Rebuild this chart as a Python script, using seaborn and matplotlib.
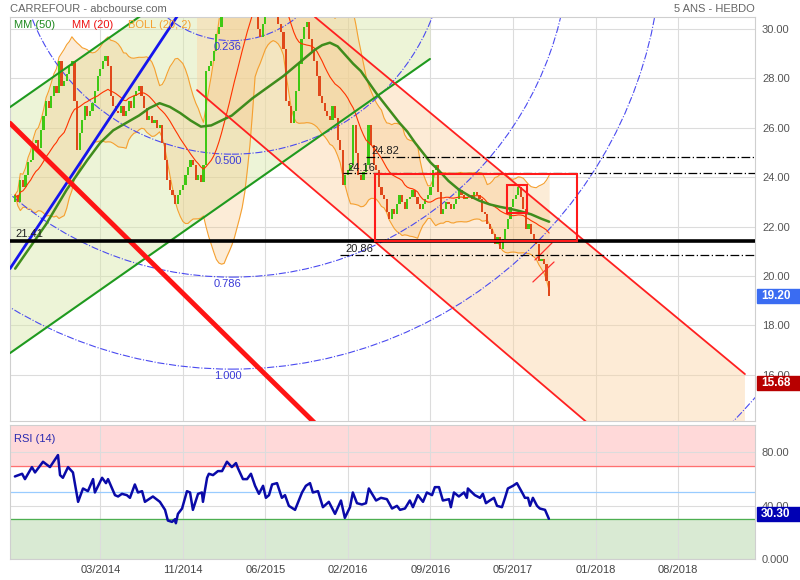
import numpy as np
import pandas as pd
import matplotlib
matplotlib.use('Agg')
import matplotlib.pyplot as plt
import matplotlib.transforms as mtransforms
from matplotlib.patches import Rectangle, Ellipse
import seaborn as sns

# weekly closes (week index 2 .. 209)
closes = [
    23.3, 23.0, 23.9, 23.6, 24.1, 24.6, 24.7, 25.4, 25.5, 25.2,
    25.9, 26.5, 27.1, 26.8, 27.3, 27.7, 27.4, 28.7, 27.7, 27.9,
    28.2, 28.5, 28.7, 27.1, 25.1, 25.8, 26.3, 26.9, 26.5, 26.7,
    27.0, 27.5, 28.1, 28.4, 28.7, 28.9, 28.5, 27.3, 26.9, 26.7,
    26.6, 26.9, 26.5, 26.7, 27.1, 26.8, 27.3, 27.5, 27.7, 27.3,
    26.8, 26.3, 26.5, 26.2, 26.3, 26.0, 26.1, 25.4, 24.7, 23.9,
    23.5, 23.3, 22.9, 23.3, 23.5, 23.7, 24.1, 24.4, 24.7, 24.5,
    23.9, 24.1, 23.8, 24.5, 28.3, 28.5, 28.7, 29.1, 29.8, 30.1,
    30.6, 31.2, 30.9, 31.6, 32.2, 32.6, 32.1, 32.8, 33.0, 32.4,
    31.7, 31.1, 30.5, 30.9, 30.0, 29.7, 30.2, 30.8, 31.2, 30.9,
    31.3, 30.7, 30.2, 29.9, 29.2, 27.1, 26.9, 26.2, 26.7, 27.5,
    28.6, 29.6, 30.1, 30.3, 29.6, 29.1, 28.7, 28.1, 27.3, 27.0,
    26.7, 26.5, 26.3, 26.9, 26.4, 25.5, 25.1, 23.7, 24.1, 24.3,
    24.5, 26.1, 25.0, 24.1, 23.9, 24.2, 24.5, 26.1, 25.3, 24.5,
    24.3, 23.6, 23.3, 23.1, 22.6, 22.3, 22.7, 22.5, 22.9, 23.3,
    23.0, 22.7, 23.1, 23.2, 23.5, 23.2, 22.9, 22.7, 22.9, 23.1,
    23.3, 23.6, 24.3, 24.5, 23.4, 22.5, 22.7, 23.0, 22.9, 22.7,
    22.9, 23.1, 23.5, 23.3, 23.1, 23.2, 23.3, 23.1, 23.4, 23.3,
    23.1, 22.6, 22.5, 22.1, 21.9, 21.7, 21.3, 21.6, 21.1, 21.5,
    21.9, 22.3, 22.8, 23.1, 23.3, 23.6, 23.2, 22.7, 21.9, 22.1,
    21.7, 21.5, 21.3, 20.6, 20.7, 20.5, 19.8, 19.2,
]
first_week = 2
first_open = 23.0

# MM (50)
mm50_weeks = [2, 6, 10, 14, 18, 22, 26, 30, 35, 40, 45, 50, 54, 58, 62,
              66, 70, 74, 78, 82, 86, 90, 94, 98, 102, 106, 110, 114, 118,
              121, 124, 127, 130, 133, 136, 139, 142, 145, 148, 151, 154,
              157, 160, 163, 166, 170, 174, 178, 182, 186, 190, 194, 198,
              202, 206, 209]
mm50_values = [20.3, 20.9, 21.5, 22.1, 22.8, 23.5, 24.1, 24.7, 25.4, 25.9,
               26.2, 26.5, 26.8, 27.0, 26.85, 26.6, 26.3, 26.05, 26.1, 26.3,
               26.5, 26.85, 27.2, 27.5, 27.8, 28.1, 28.45, 28.8, 29.15,
               29.35, 29.45, 29.3, 28.95, 28.6, 28.3, 27.85, 27.4, 27.0,
               26.6, 26.2, 25.85, 25.4, 25.0, 24.6, 24.3, 23.85, 23.5,
               23.25, 23.05, 22.9, 22.8, 22.72, 22.62, 22.5, 22.32, 22.2]

tick_weeks = [35, 67, 99, 131, 163, 195, 227, 259]
tick_labels = ['03/2014', '11/2014', '06/2015', '02/2016',
               '09/2016', '05/2017', '01/2018', '08/2018']

rsi_weeks = [
    1.9, 4.7, 5.8, 8.5, 9.7, 12.8, 15.5, 18.6, 19.4, 20.5,
    22.5, 24.4, 26.4, 28.3, 30.2, 32.2, 32.9, 35.7, 37.2, 38.0,
    40.7, 41.9, 43.4, 45.3, 46.5, 48.4, 49.6, 51.2, 52.3, 55.4,
    58.1, 60.1, 61.2, 62.8, 64.0, 64.3, 65.1, 66.7, 68.6, 69.8,
    70.9, 72.9, 74.4, 74.8, 76.4, 77.1, 78.7, 80.6, 82.2, 84.1,
    86.0, 87.6, 88.4, 90.3, 91.9, 93.4, 95.0, 96.5, 98.1, 99.2,
    100.4, 101.6, 103.5, 105.4, 106.6, 108.1, 110.5, 113.2, 114.7, 116.3,
    117.4, 119.4, 121.3, 123.6, 126.0, 128.3, 129.8, 131.8, 132.9, 134.5,
    136.4, 138.0, 139.1, 141.9, 143.8, 146.1, 148.1, 150.0, 151.2, 153.1,
    155.0, 156.2, 158.1, 160.1, 161.6, 163.6, 164.7, 166.3, 167.8, 170.2,
    170.9, 172.1, 174.0, 176.0, 177.1, 177.5, 180.2, 182.2, 183.3, 184.5,
    186.0, 187.6, 188.8, 190.7, 191.9, 193.0, 195.0, 196.5, 198.8, 199.6,
    200.8, 201.6, 202.7, 204.3, 205.4, 207.4, 208.9,
]
rsi_values = [
    62, 64, 60, 69, 65, 73, 69, 78, 63, 61,
    69, 65, 43, 53, 51, 60, 50, 61, 57, 60,
    48, 47, 49, 48, 46, 56, 50, 51, 43, 47,
    43, 37, 29, 28, 30, 27, 34, 38, 51, 50,
    37, 49, 50, 43, 61, 64, 63, 66, 66, 73,
    69, 72, 68, 60, 60, 64, 55, 49, 55, 46,
    48, 56, 57, 46, 48, 40, 37, 50, 55, 57,
    50, 51, 39, 43, 34, 44, 31, 39, 50, 42,
    41, 42, 53, 44, 46, 45, 38, 40, 37, 38,
    44, 39, 48, 43, 50, 48, 54, 54, 44, 45,
    39, 50, 47, 50, 46, 53, 48, 46, 49, 42,
    44, 46, 40, 39, 46, 53, 55, 57, 49, 46,
    46, 40, 46, 40, 38, 37, 30.3,
]

# horizontal levels (price, first week)
level_prices = [24.82, 24.16, 20.86]
level_starts = [138, 129, 128]
support_price = 21.41

# trend lines, anchors as (week, price)
blue_line = [(0, 20.3), (64.7, 30.5)]
red_thick_line = [(0, 26.19), (118.6, 14.0)]
green_upper = [(0, 26.84), (50.0, 30.49)]
green_lower = [(0, 16.88), (162.8, 28.79)]
red_chan_low = [(72.5, 27.53), (224.8, 13.97)]
red_chan_high = [(118.2, 30.49), (284.9, 16.03)]
small_up = [(203.5, 20.65), (210.1, 21.34)]
small_dn = [(202.7, 19.76), (210.9, 20.57)]

# boxes (week0, week1, price0, price1)
big_box = (141.5, 219.8, 21.40, 24.15)
small_box = (192.6, 200.4, 22.55, 23.68)

# fibonacci arcs
fib_center = (86.0, 33.64)
fib_ratios = [0.236, 0.5, 0.786, 1.0, 1.618]
fib_labels = ['0.236', '0.500', '0.786', '1.000']

last_price = 19.20
channel_end_price = 15.68

# ---------------------------------------------------------------------------
weeks = np.arange(first_week, first_week + len(closes))
df = pd.DataFrame({'week': weeks, 'close': closes})
df['open'] = df['close'].shift(1).fillna(first_open)
df['mm20'] = df['close'].rolling(20, min_periods=1).mean()
std20 = df['close'].rolling(20, min_periods=2).std(ddof=0).fillna(0)
df['bb_up'] = df['mm20'] + 2 * std20
df['bb_lo'] = df['mm20'] - 2 * std20

sns.set_style('white')
plt.rcParams['font.family'] = ['Liberation Sans', 'DejaVu Sans']

W, H = 800, 580
fig = plt.figure(figsize=(8, 5.8), dpi=100)
ax = fig.add_axes([10 / W, 1 - 421 / H, 745 / W, 404 / H])
axr = fig.add_axes([10 / W, 1 - 559.3 / H, 745 / W, 134.3 / H], sharex=ax)

XMAX = 288.8
ax.set_xlim(0, XMAX)
ax.set_ylim(14.13, 30.49)
axr.set_ylim(0, 100.5)

grid_c = '#dcdcdc'
for a in (ax, axr):
    for s in a.spines.values():
        s.set_color('#cfcfcf')
        s.set_linewidth(0.8)
    a.set_xticks(tick_weeks)
    a.grid(True, color=grid_c, linewidth=0.8)
    a.set_axisbelow(True)
    a.yaxis.tick_right()
    a.tick_params(length=0, labelsize=8, labelcolor='#555555', pad=5)

ax.set_yticks(np.arange(16, 31, 2))
ax.set_yticklabels([f'{v:.2f}' for v in np.arange(16, 31, 2)])
ax.tick_params(axis='x', labelbottom=False)
axr.set_yticks([0, 40, 80])
axr.set_yticklabels(['0.000', '40.00', '80.00'])
axr.set_xticklabels(tick_labels)
axr.tick_params(axis='x', labelcolor='#444444', pad=4)


def line_vals(anchors, xs):
    (x0, y0), (x1, y1) = anchors
    return y0 + (y1 - y0) * (np.asarray(xs) - x0) / (x1 - x0)


# channel backgrounds
xs = np.linspace(0, green_lower[1][0], 300)
ax.fill_between(xs, line_vals(green_lower, xs), line_vals(green_upper, xs),
                color='#d8e8a8', alpha=0.45, linewidth=0, zorder=0.6)
xs = np.linspace(red_chan_low[0][0], red_chan_high[1][0], 300)
ax.fill_between(xs, line_vals(red_chan_low, xs), line_vals(red_chan_high, xs),
                color='#fbd4a4', alpha=0.45, linewidth=0, zorder=0.6)

# bollinger
ax.fill_between(df['week'], df['bb_lo'], df['bb_up'], color='#f6c27c',
                alpha=0.3, linewidth=0, zorder=1)
sns.lineplot(x=df['week'], y=df['bb_up'], ax=ax, color='#f5a030',
             linewidth=0.8, sort=False, zorder=2)
sns.lineplot(x=df['week'], y=df['bb_lo'], ax=ax, color='#f5a030',
             linewidth=0.8, sort=False, zorder=2)

# fibonacci arcs
px_w, px_p = 2.58, 24.7
for r in fib_ratios:
    rad = r * 430
    ax.add_patch(Ellipse(fib_center, 2 * rad / px_w, 2 * rad / px_p,
                         fill=False, edgecolor='#4a4af0', linestyle='-.',
                         linewidth=0.8, zorder=2.5))
for r, lab in zip(fib_ratios, fib_labels):
    bottom = fib_center[1] - r * 430 / px_p
    ax.annotate(lab, (fib_center[0] - 1.5, bottom), xytext=(0, -1),
                textcoords='offset points', ha='center', va='top',
                fontsize=8, color='#3a3ad8', zorder=7)

# candles
up = df['close'] >= df['open']
body = (df['close'] - df['open']).abs().clip(lower=0.06)
ax.bar(df['week'], body, bottom=np.minimum(df['open'], df['close']),
       width=0.85, color=np.where(up, '#3fc814', '#e0481a'),
       linewidth=0, zorder=3)

# moving averages
sns.lineplot(x=df['week'], y=df['mm20'], ax=ax, color='#ff3300',
             linewidth=0.8, sort=False, zorder=4)
sns.lineplot(x=mm50_weeks, y=mm50_values, ax=ax, color='#3f8c1c',
             linewidth=1.8, sort=False, zorder=4)


def draw(anchors, x0, x1, **kw):
    ax.plot([x0, x1], line_vals(anchors, [x0, x1]), **kw)


draw(green_upper, 0, 60, color='#1f9a1f', linewidth=1.5, zorder=5)
draw(green_lower, 0, green_lower[1][0], color='#1f9a1f', linewidth=1.5,
     zorder=5)
draw(blue_line, 0, 80, color='#1515ee', linewidth=2, zorder=5)
draw(red_thick_line, 0, 130, color='#ff1414', linewidth=3.5, zorder=5)
for seg in (red_chan_low, red_chan_high):
    draw(seg, seg[0][0], seg[1][0], color='#ff2020', linewidth=1.3, zorder=5)
for seg in (small_up, small_dn):
    draw(seg, seg[0][0], seg[1][0], color='#ff3030', linewidth=0.9, zorder=5)

# horizontal levels
ax.axhline(support_price, color='black', linewidth=2.6, zorder=5)
ax.annotate(f'{support_price:.2f}', (2, support_price), xytext=(0, 1.5),
            textcoords='offset points', fontsize=8, color='#222222',
            va='bottom', zorder=7)
for p, s in zip(level_prices, level_starts):
    ax.plot([s, XMAX], [p, p], color='black', linewidth=0.9,
            linestyle=(0, (7, 2, 1, 2)), zorder=5)
    ax.annotate(f'{p:.2f}', (s + 2, p), xytext=(0, 0.5),
                textcoords='offset points', fontsize=8, color='#222222',
                va='bottom', zorder=7)

# boxes
for w0, w1, p0, p1 in (big_box, small_box):
    ax.add_patch(Rectangle((w0, p0), w1 - w0, p1 - p0, fill=False,
                           edgecolor='#ff1a1a', linewidth=1.5, zorder=6))

# right side value tags
trans = mtransforms.blended_transform_factory(ax.transAxes, ax.transData)
for val, col in ((last_price, '#3a6cf2'), (channel_end_price, '#b80000')):
    ax.add_patch(Rectangle((1.003, val - 0.285), 0.058, 0.57, transform=trans,
                           color=col, clip_on=False, zorder=8))
    ax.text(1.008, val, f'{val:.2f}', transform=trans, color='white',
            fontsize=8.5, fontweight='bold', va='center', clip_on=False,
            zorder=9)

# RSI panel
axr.axhspan(70, 100.5, color='#ffd9d9', zorder=0.4)
axr.axhspan(0, 30, color='#d9ead3', zorder=0.4)
axr.axhline(70, color='#ff7070', linewidth=0.9, zorder=1)
axr.axhline(50, color='#99ccff', linewidth=0.9, zorder=1)
axr.axhline(30, color='#4caf50', linewidth=0.9, zorder=1)
sns.lineplot(x=rsi_weeks, y=rsi_values, ax=axr, color='#0a0aa8',
             linewidth=1.8, sort=False, zorder=3)
axr.text(0.006, 0.93, 'RSI (14)', transform=axr.transAxes, fontsize=8,
         color='#2a2ab0', va='top')
rtrans = mtransforms.blended_transform_factory(axr.transAxes, axr.transData)
rsi_last = rsi_values[-1]
axr.add_patch(Rectangle((1.003, rsi_last - 1.5), 0.058, 10.4,
                        transform=rtrans, color='#0000b4', clip_on=False,
                        zorder=8))
axr.text(1.008, rsi_last + 3.7, f'{rsi_last:.2f}', transform=rtrans,
         color='white', fontsize=8.5, fontweight='bold', va='center',
         clip_on=False, zorder=9)

for a in (ax, axr):
    a.set_xlabel('')
    a.set_ylabel('')
    leg = a.get_legend()
    if leg:
        leg.remove()

# header and legend
fig.text(10 / W, 1 - 9 / H, 'CARREFOUR - abcbourse.com', fontsize=8,
         color='#666666', va='center')
fig.text(755 / W, 1 - 9 / H, '5 ANS - HEBDO', fontsize=8,
         color='#666666', va='center', ha='right')
for txt, x, col in (('MM (50)', 14, '#1f8a1f'), ('MM (20)', 72, '#ee1111'),
                    ('BOLL (20, 2)', 128, '#f5a030')):
    fig.text(x / W, 1 - 25 / H, txt, fontsize=8, color=col, va='center')

fig.savefig('out.png', dpi=100)
